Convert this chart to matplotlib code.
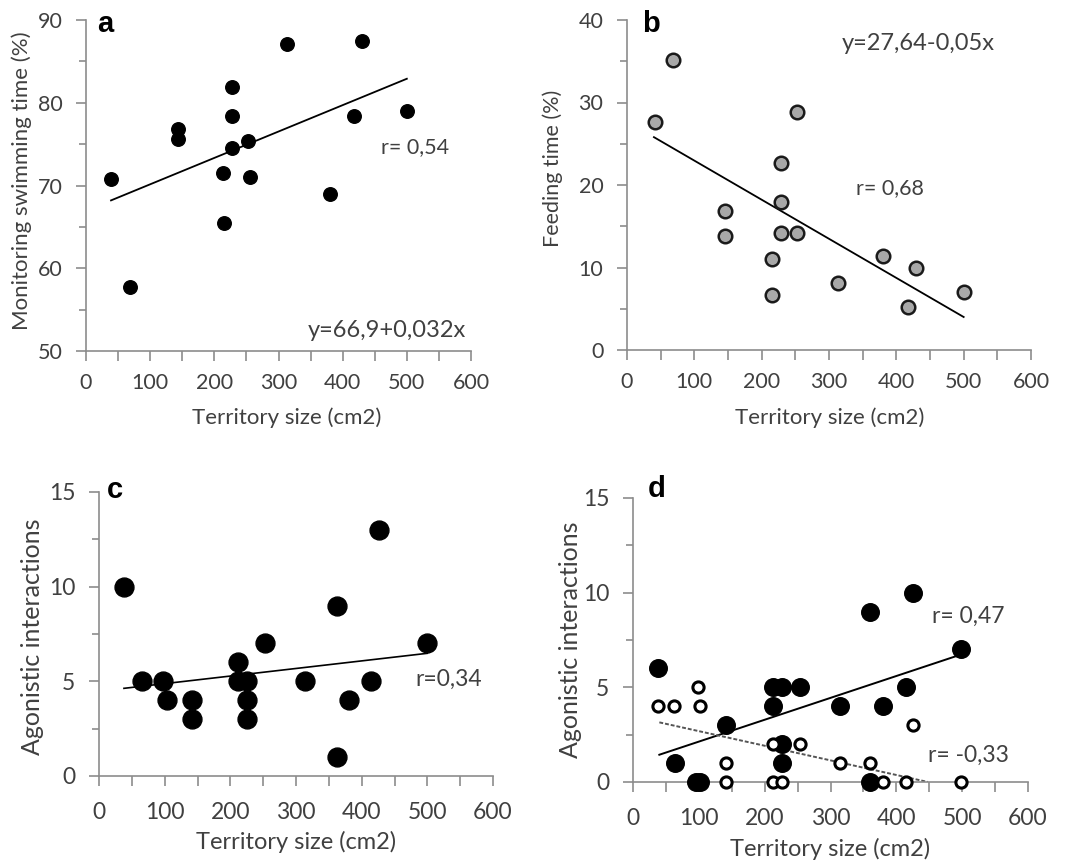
import matplotlib.pyplot as plt
from matplotlib.ticker import MultipleLocator

plt.rcParams['font.family'] = ['Lato', 'DejaVu Sans']

# panel a: monitoring swimming time
a_x = [39, 68, 143, 143, 228, 228, 228, 214, 215, 253, 256, 314, 381, 430, 417, 500]
a_y = [70.8, 57.7, 76.8, 75.6, 81.9, 78.4, 74.5, 71.5, 65.5, 75.4, 71.0, 87.1, 69.0, 87.5, 78.4, 79.0]
a_fit_x = [39, 500]
a_fit_y = [68.2, 82.9]

# panel b: feeding time
b_x = [41, 68, 145, 145, 215, 215, 228, 228, 228, 252, 252, 314, 380, 417, 429, 500]
b_y = [27.6, 35.2, 16.9, 13.8, 11.0, 6.7, 22.7, 17.9, 14.2, 28.8, 14.2, 8.1, 11.4, 5.2, 10.0, 7.0]
b_fit_x = [40, 500]
b_fit_y = [25.8, 4.0]

# panel c: agonistic interactions (all)
c_x = [38, 66, 97, 103, 142, 142, 211, 211, 226, 226, 226, 253, 314, 362, 362, 380, 414, 427, 500]
c_y = [10, 5, 5, 4, 4, 3, 6, 5, 5, 4, 3, 7, 5, 9, 1, 4, 5, 13, 7]
c_fit_x = [38, 500]
c_fit_y = [4.63, 6.48]

# panel d: agonistic interactions, split in two groups
d1_x = [38, 64, 96, 102, 141, 213, 227, 213, 227, 227, 253, 314, 360, 360, 379, 415, 426, 498]
d1_y = [6, 1, 0, 0, 3, 5, 5, 4, 2, 1, 5, 4, 9, 0, 4, 5, 10, 7]
d2_x = [38, 63, 99, 102, 141, 141, 212, 212, 226, 253, 314, 360, 379, 415, 426, 498]
d2_y = [4, 4, 5, 4, 1, 0, 2, 0, 0, 2, 1, 1, 0, 0, 3, 0]
d1_fit_x = [40, 498]
d1_fit_y = [1.44, 6.73]
d2_fit_x = [40, 448]
d2_fit_y = [3.15, 0.0]

W, H = 1073, 868
fig = plt.figure(figsize=(W / 100, H / 100), dpi=100)

txt = '#404040'
axc = '#8c8c8c'


def box(l, t, r, b):
    return [l / W, 1 - b / H, (r - l) / W, (b - t) / H]


def style(ax, ylim, ymajor, yminor, fs, xpad):
    ax.set_xlim(0, 600)
    ax.set_ylim(*ylim)
    ax.xaxis.set_major_locator(MultipleLocator(100))
    ax.xaxis.set_minor_locator(MultipleLocator(50))
    ax.yaxis.set_major_locator(MultipleLocator(ymajor))
    ax.yaxis.set_minor_locator(MultipleLocator(yminor))
    for s in ['top', 'right']:
        ax.spines[s].set_visible(False)
    for s in ['left', 'bottom']:
        ax.spines[s].set_color(axc)
        ax.spines[s].set_linewidth(1.2)
    ax.tick_params(which='both', direction='out', color=axc, width=1.2,
                   labelcolor=txt, labelsize=fs)
    ax.tick_params(axis='y', which='major', length=7, pad=10)
    ax.tick_params(axis='y', which='minor', length=5)
    ax.tick_params(axis='x', which='both', length=7, pad=xpad)


def labels(ax, xl, yl, xpos, ypos, fs_x, fs_y):
    ax.set_xlabel(xl, fontsize=fs_x, color=txt)
    ax.set_ylabel(yl, fontsize=fs_y, color=txt)
    ax.xaxis.set_label_coords(xpos[0] / W, 1 - xpos[1] / H, transform=fig.transFigure)
    ax.yaxis.set_label_coords(ypos[0] / W, 1 - ypos[1] / H, transform=fig.transFigure)
    ax.xaxis.label.set_va('center')
    ax.yaxis.label.set_va('center')


# a
ax = fig.add_axes(box(86, 20, 471, 351))
style(ax, (50, 90), 10, 5, 15.5, 9)
ax.plot(a_fit_x, a_fit_y, color='black', lw=1.3, zorder=2)
ax.scatter(a_x, a_y, s=95, color='black', zorder=3, clip_on=False)
ax.text(513, 74.7, 'r= 0,54', fontsize=15.5, color=txt, ha='center', va='center')
ax.text(469, 52.5, 'y=66,9+0,032x', fontsize=17, color=txt, ha='center', va='center')
labels(ax, 'Territory size (cm2)', 'Monitoring swimming time (%)', (287, 418), (22, 181), 16, 16)

# b
ax = fig.add_axes(box(627, 20, 1031, 350))
style(ax, (0, 40), 10, 5, 15.5, 9)
ax.plot(b_fit_x, b_fit_y, color='black', lw=1.3, zorder=2)
ax.scatter(b_x, b_y, s=95, color='#a8a8a8', edgecolors='#1a1a1a', linewidths=1.8,
           zorder=3, clip_on=False)
ax.text(432, 37.2, 'y=27,64-0,05x', fontsize=17, color=txt, ha='center', va='center')
ax.text(391, 19.6, 'r= 0,68', fontsize=15.5, color=txt, ha='center', va='center')
labels(ax, 'Territory size (cm2)', 'Feeding time (%)', (830, 418), (553, 168), 16, 15.5)

# c
ax = fig.add_axes(box(99, 492, 493, 776))
style(ax, (0, 15), 5, 2.5, 16.5, 12)
ax.plot(c_fit_x, c_fit_y, color='black', lw=1.2, zorder=2)
ax.scatter(c_x, c_y, s=185, color='black', zorder=3, clip_on=False)
ax.text(533, 5.1, 'r=0,34', fontsize=16.5, color=txt, ha='center', va='center')
labels(ax, 'Territory size (cm2)', 'Agonistic interactions', (296, 842), (33, 637), 17, 18)

# d
ax = fig.add_axes(box(633, 498, 1028, 782))
style(ax, (0, 15), 5, 2.5, 16.5, 12)
ax.plot(d1_fit_x, d1_fit_y, color='black', lw=1.4, zorder=2)
ax.plot(d2_fit_x, d2_fit_y, color='#555555', lw=1.4, ls=(0, (2, 1)), zorder=2)
ax.scatter(d1_x, d1_y, s=160, color='black', zorder=3, clip_on=False)
ax.scatter(d2_x, d2_y, s=65, color='white', edgecolors='black', linewidths=2.2,
           zorder=4, clip_on=False)
ax.text(510, 8.75, 'r= 0,47', fontsize=16.5, color=txt, ha='center', va='center')
ax.text(510, 1.4, 'r= -0,33', fontsize=16.5, color=txt, ha='center', va='center')
labels(ax, 'Territory size (cm2)', 'Agonistic interactions', (830, 849), (570, 640), 17, 18)

# panel letters
for lx, ly, s in [(97, 32, 'a'), (642, 32, 'b'), (107, 498, 'c'), (648, 497, 'd')]:
    fig.text(lx / W, 1 - ly / H, s, fontsize=21, fontweight='bold',
             family='Liberation Sans', color='black', va='baseline')

fig.savefig('out.png', dpi=100)
